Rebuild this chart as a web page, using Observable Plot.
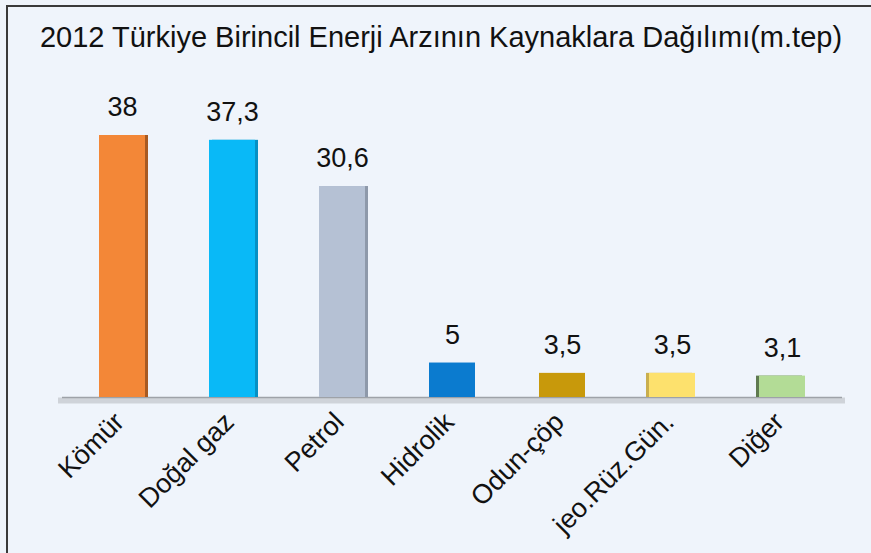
<!DOCTYPE html>
<html>
<head>
<meta charset="utf-8">
<script src="https://cdn.jsdelivr.net/npm/d3@7"></script>
<script src="https://cdn.jsdelivr.net/npm/@observablehq/plot@0.6"></script>
<style>
  html, body { margin: 0; padding: 0; background: #eff4fb; }
  #wrap { position: relative; width: 871px; height: 553px; overflow: hidden; background: #eff4fb; font-family: "Liberation Sans", Arial, sans-serif; }
  #frame { position: absolute; left: 6px; top: 5px; width: 900px; height: 600px; border-left: 2px solid #3a3a3a; border-top: 2px solid #3a3a3a; box-sizing: border-box; }
  #title { position: absolute; left: 0; top: 21px; width: 882px; text-align: center; font-size: 29px; color: #111; white-space: nowrap; }
  #chart { position: absolute; left: 0; top: 80px; }
</style>
</head>
<body>
<div id="wrap">
  <div id="frame"></div>
  <div id="title">2012 Türkiye Birincil Enerji Arzının Kaynaklara Dağılımı(m.tep)</div>
  <div id="chart"></div>
</div>
<script>
const categories = ["Kömür", "Doğal gaz", "Petrol", "Hidrolik", "Odun-çöp", "jeo.Rüz.Gün.", "Diğer"];
const values = [38, 37.3, 30.6, 5, 3.5, 3.5, 3.1];
const labels = ["38", "37,3", "30,6", "5", "3,5", "3,5", "3,1"];
const colors = ["#f38737", "#09b9f7", "#b5c1d4", "#0b7bcf", "#c8990b", "#fde16d", "#b3dc96"];
const shades = ["#a85a22", "#0690c4", "#8e99aa", "#0a5fa0", "#8f6d08", "#c9ae4e", "#5f7a50"];

const data = categories.map((c, i) => ({cat: c, value: values[i], label: labels[i], color: colors[i], shade: shades[i], idx: i}));
const leftSide = data.filter(d => d.idx < 3);
const rightSide = data.filter(d => d.idx > 4);

const chart = Plot.plot({
  width: 871,
  height: 473,
  marginLeft: 66,
  marginRight: 32,
  marginTop: 55,
  marginBottom: 156,
  style: {background: "transparent", fontFamily: "Liberation Sans, Arial, sans-serif"},
  x: {domain: categories, paddingInner: 0.58, paddingOuter: 0.29, axis: null},
  y: {domain: [0, 38], axis: null},
  marks: [
    Plot.ruleY([0], {stroke: "#cfd3d9", strokeWidth: 6, dy: 3, insetLeft: -8, insetRight: -6}),
    Plot.ruleY([0], {stroke: "#9ea2a8", strokeWidth: 1.5, insetLeft: -4, insetRight: -3}),
    Plot.barY(leftSide, {x: "cat", y: "value", fill: "shade", dx: 3}),
    Plot.barY(rightSide, {x: "cat", y: "value", fill: "shade", dx: -3}),
    Plot.barY(data, {x: "cat", y: "value", fill: "color"}),
    Plot.text(data, {x: "cat", y: "value", text: "label", dy: -28, fontSize: 27, fill: "#111", lineAnchor: "middle"}),
    Plot.text(data, {x: "cat", text: "cat", frameAnchor: "bottom", rotate: -45, textAnchor: "end", lineAnchor: "middle", dy: 20, dx: -3, fontSize: 27, fill: "#111"})
  ]
});
document.getElementById("chart").appendChild(chart);
</script>
</body>
</html>
